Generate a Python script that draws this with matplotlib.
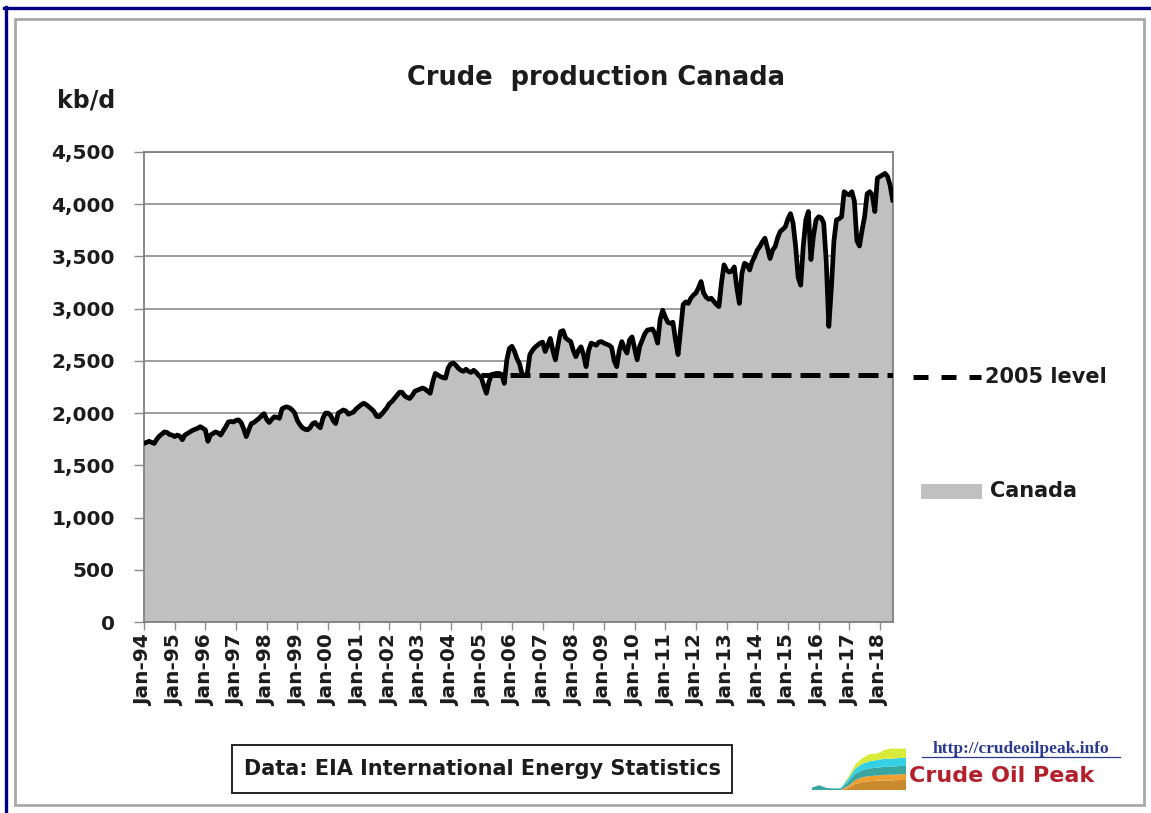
import numpy as np
import matplotlib
matplotlib.use("Agg")
import matplotlib.pyplot as plt
from matplotlib.lines import Line2D
from matplotlib.patches import Rectangle

# ---------------- data (kb/d, monthly, Jan-1994 .. Jun-2018) ----------------
canada_1994_1999 = [
    1710, 1720, 1730, 1720, 1710, 1750, 1780, 1800, 1820, 1815, 1795, 1790,  # 1994
    1775, 1790, 1780, 1745, 1790, 1805, 1820, 1835, 1845, 1855, 1870, 1855,  # 1995
    1840, 1730, 1790, 1805, 1820, 1810, 1790, 1830, 1870, 1915, 1920, 1915,  # 1996
    1930, 1935, 1910, 1850, 1775, 1840, 1900, 1910, 1930, 1950, 1975, 1995,  # 1997
    1940, 1910, 1940, 1965, 1960, 1950, 2040, 2055, 2060, 2050, 2030, 2000,  # 1998
    1930, 1890, 1860, 1845, 1840, 1860, 1900, 1910, 1880, 1860, 1950, 2000,  # 1999
]
canada_2000_2005 = [
    2000, 1980, 1930, 1900, 2000, 2015, 2030, 2020, 1990, 2000, 2010, 2040,  # 2000
    2060, 2080, 2095, 2080, 2060, 2040, 2015, 1970, 1965, 1990, 2020, 2050,  # 2001
    2090, 2110, 2140, 2170, 2200, 2200, 2165, 2150, 2140, 2170, 2210, 2220,  # 2002
    2230, 2240, 2230, 2210, 2190, 2300, 2380, 2365, 2350, 2340, 2335, 2430,  # 2003
    2470, 2480, 2460, 2430, 2410, 2400, 2420, 2400, 2390, 2410, 2390, 2360,  # 2004
    2340, 2260, 2190, 2300, 2370, 2375, 2380, 2380, 2370, 2285, 2510, 2620,  # 2005
]
canada_2006_2011 = [
    2640, 2590, 2520, 2470, 2365, 2360, 2380, 2560, 2600, 2630, 2650, 2670,  # 2006
    2680, 2590, 2650, 2715, 2600, 2510, 2650, 2780, 2790, 2720, 2700, 2685,  # 2007
    2600, 2540, 2600, 2635, 2560, 2445, 2600, 2670, 2660, 2650, 2680, 2685,  # 2008
    2670, 2660, 2650, 2630, 2500, 2445, 2600, 2685, 2620, 2575, 2700, 2730,  # 2009
    2620, 2510, 2640, 2700, 2760, 2795, 2800, 2805, 2760, 2670, 2900, 2985,  # 2010
    2920, 2870, 2860, 2870, 2700, 2560, 2800, 3040, 3065, 3050, 3100, 3130,  # 2011
]
canada_2012_2018 = [
    3150, 3200, 3260, 3150, 3110, 3090, 3100, 3070, 3040, 3020, 3250, 3420,  # 2012
    3370, 3350, 3360, 3400, 3200, 3050, 3340, 3435, 3420, 3370, 3450, 3500,  # 2013
    3560, 3595, 3640, 3675, 3580, 3480, 3560, 3595, 3680, 3740, 3760, 3785,  # 2014
    3860, 3910, 3820, 3600, 3300, 3225, 3600, 3850, 3930, 3470, 3700, 3850,  # 2015
    3880, 3870, 3820, 3450, 2830, 3200, 3650, 3850, 3860, 3880, 4120, 4100,  # 2016
    4090, 4120, 4030, 3650, 3600, 3750, 3880, 4100, 4120, 4090, 3930, 4250,  # 2017
    4265, 4280, 4295, 4265, 4180, 4040,                                      # 2018
]
level_2005 = 2365          # kb/d, average 2005 production
level_start_year = 2005

first_year = 1994
tick_years = list(range(1994, 2019))
x_tick_labels = ["Jan-%02d" % (y % 100) for y in tick_years]
y_ticks = [0, 500, 1000, 1500, 2000, 2500, 3000, 3500, 4000, 4500]
y_tick_labels = ["{:,}".format(v) for v in y_ticks]

title = "Crude  production Canada"
unit_label = "kb/d"
series_name = "Canada"
level_name = "2005 level"
source_text = "Data: EIA International Energy Statistics"
site_url = "http://crudeoilpeak.info"
site_name = "Crude Oil Peak"

# small decorative logo (stacked area icon)
logo_x = [0, 1, 2, 3, 4, 5, 6, 7, 8, 9, 10, 11, 12, 13]
logo_brown = [0, 0, 0, 0, 0, 0.5, 1.5, 2.0, 2.2, 2.3, 2.4, 2.4, 2.5, 2.5]
logo_orange = [0, 0, 0, 0, 0, 0.5, 1.0, 1.2, 1.3, 1.3, 1.4, 1.4, 1.4, 1.5]
logo_teal = [0.6, 1.2, 0.5, 0.4, 0.4, 1.0, 1.6, 1.8, 1.9, 2.0, 2.0, 2.0, 2.1, 2.0]
logo_cyan = [0, 0, 0, 0, 0.1, 0.8, 1.3, 1.6, 1.8, 1.9, 2.0, 2.0, 2.0, 2.0]
logo_yellow = [0, 0, 0, 0, 0, 0.4, 1.0, 1.4, 1.8, 1.6, 2.2, 2.6, 2.3, 2.4]

# ---------------- figure ----------------
W, H = 1151, 813
fig = plt.figure(figsize=(W / 100, H / 100), dpi=100)
fig.patch.set_facecolor("white")


def fx(x):
    return x / W


def fy(y):
    return 1 - y / H


TXT = "#1c1c1c"
GRID = "#8c8c8c"
FILL = "#c0c0c0"

values = np.array(canada_1994_1999 + canada_2000_2005 + canada_2006_2011 + canada_2012_2018, dtype=float)
months = np.arange(len(values))

ax = fig.add_axes([fx(144), fy(622), (892.7 - 144) / W, (622 - 152) / H])
ax.set_axisbelow(True)
ax.fill_between(months, 0, values, color=FILL, lw=0, zorder=2)
ax.plot(months, values, color="black", lw=3.4, solid_joinstyle="round", zorder=3)
lvl_start = (level_start_year - first_year) * 12
ax.plot([lvl_start, months[-1]], [level_2005, level_2005], color="black", lw=3.6,
        ls=(0, (4, 1.8)), zorder=4)

ax.set_xlim(0, months[-1])
ax.set_ylim(0, 4500)
ax.set_yticks(y_ticks, y_tick_labels, fontsize=14.5, fontweight="bold", color=TXT)
ax.set_xticks([(y - first_year) * 12 for y in tick_years], x_tick_labels, rotation=90,
              fontsize=14.5, fontweight="bold", color=TXT)
ax.yaxis.grid(True, color=GRID, lw=1.2)
ax.tick_params(axis="x", direction="out", length=6, width=1, color=GRID, pad=3)
ax.tick_params(axis="y", direction="out", length=7, width=1, color=GRID, pad=14)
for s in ax.spines.values():
    s.set_color("#7f7f7f")
    s.set_linewidth(1.3)

# title and unit
fig.text(fx(596), fy(78), title, ha="center", va="center", fontsize=18.5,
         fontweight="bold", color=TXT)
fig.text(fx(86), fy(101), unit_label, ha="center", va="center", fontsize=17,
         fontweight="bold", color=TXT)

# legend (manual)
fig.add_artist(Line2D([fx(913), fx(981)], [fy(377), fy(377)], transform=fig.transFigure,
                      color="black", lw=3.6, ls=(0, (3, 2.6))))
fig.text(fx(985), fy(377), level_name, ha="left", va="center", fontsize=15,
         fontweight="bold", color=TXT)
fig.add_artist(Rectangle((fx(921), fy(499)), (982 - 921) / W, (499 - 484) / H,
                         transform=fig.transFigure, facecolor=FILL, edgecolor="none"))
fig.text(fx(990), fy(491), series_name, ha="left", va="center", fontsize=15,
         fontweight="bold", color=TXT)

# source box
fig.add_artist(Rectangle((fx(232), fy(793)), (732 - 232) / W, (793 - 745) / H,
                         transform=fig.transFigure, facecolor="white", edgecolor="#222222",
                         lw=1.4))
fig.text(fx(482), fy(769), source_text, ha="center", va="center", fontsize=15,
         fontweight="bold", color=TXT)

# logo
fig.text(fx(1021), fy(749), site_url, ha="center", va="center", fontsize=12.5,
         fontweight="bold", family="Liberation Serif", color="#2b3a8f")
fig.add_artist(Line2D([fx(922), fx(1120)], [fy(757), fy(757)], transform=fig.transFigure,
                      color="#2b3a8f", lw=0.9))
fig.text(fx(1002), fy(776), site_name, ha="center", va="center", fontsize=16,
         fontweight="bold", color="#b3202c")
lax = fig.add_axes([fx(812), fy(790), (906 - 812) / W, (790 - 748) / H])
lax.stackplot(logo_x, logo_brown, logo_orange, logo_teal, logo_cyan, logo_yellow,
              colors=["#c98a2e", "#f0a030", "#3aa6a0", "#35d0e6", "#d8ea3a"], lw=0)
lax.set_xlim(0, 13)
lax.set_ylim(0, 10.5)
lax.axis("off")

# borders
fig.add_artist(Rectangle((fx(15), fy(805)), (1144 - 15) / W, (805 - 19) / H,
                         transform=fig.transFigure, facecolor="none", edgecolor="#a8a8a8",
                         lw=2))
fig.add_artist(Line2D([fx(4), fx(1151)], [fy(8), fy(8)], transform=fig.transFigure,
                      color="#000080", lw=2.4))
fig.add_artist(Line2D([fx(6), fx(6)], [fy(7), fy(813)], transform=fig.transFigure,
                      color="#000080", lw=2.4))

fig.savefig("out.png", dpi=100, facecolor="white")
